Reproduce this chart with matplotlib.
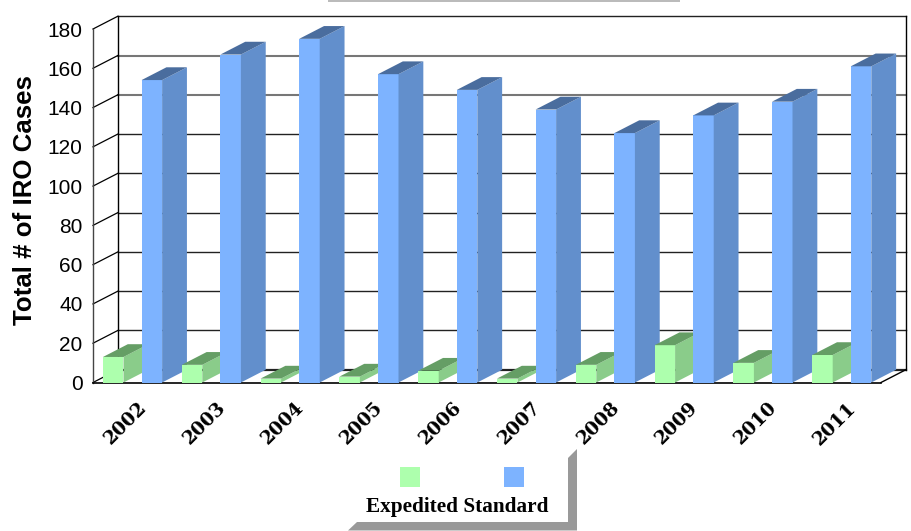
import matplotlib
matplotlib.use('Agg')
import matplotlib.pyplot as plt
from matplotlib.patches import Polygon, Rectangle

# Chart data
years = ['2002', '2003', '2004', '2005', '2006', '2007', '2008', '2009', '2010', '2011']
expedited = [13, 9, 2, 3, 6, 2, 9, 19, 10, 14]
standard = [154, 167, 175, 157, 149, 139, 127, 136, 143, 161]
y_ticks = [0, 20, 40, 60, 80, 100, 120, 140, 160, 180]

# 3D look, in data units
depth_x = 0.315
depth_y = 6.5
bar_w = 0.26
green_off = 0.127
blue_off = 0.617

green = ('#ADFFAD', '#8ACC8A', '#659E65')
blue = ('#7DB3FF', '#628FCC', '#4A6D9E')

W, H = 911, 531
fig = plt.figure(figsize=(W / 100, H / 100), dpi=100)
ax = fig.add_axes([93 / W, (H - 382.5) / H, 788 / W, 353.5 / H])
ax.set_xlim(0, 10)
ax.set_ylim(0, 180)
for s in ax.spines.values():
    s.set_visible(False)
ax.patch.set_visible(False)


def draw_bar(x, val, cols):
    ax.bar(x, val, bar_w, align='edge', color=cols[0], zorder=5, clip_on=False)
    side = [(x + bar_w, 0), (x + bar_w + depth_x, depth_y),
            (x + bar_w + depth_x, val + depth_y), (x + bar_w, val)]
    top = [(x, val), (x + depth_x, val + depth_y),
           (x + bar_w + depth_x, val + depth_y), (x + bar_w, val)]
    ax.add_patch(Polygon(side, color=cols[1], lw=0, zorder=5, clip_on=False))
    ax.add_patch(Polygon(top, color=cols[2], lw=0, zorder=5, clip_on=False))


# back wall, side wall and floor
for t in y_ticks:
    # the 140 and 160 lines look lighter and thicker in the original
    col, lw = ('#777777', 1.5) if t in (140, 160) else ('#222222', 1)
    ax.plot([depth_x, 10 + depth_x], [t + depth_y, t + depth_y], color=col,
            lw=1.6 if t == 0 else lw, zorder=1, clip_on=False)
    ax.plot([0, depth_x], [t, t + depth_y], color='black', lw=0.9, zorder=1, clip_on=False)
ax.plot([0, 0], [0, 180], color='#444444', lw=1, zorder=1, clip_on=False)
ax.plot([depth_x, depth_x], [depth_y, 180 + depth_y], color='black', lw=1, zorder=1, clip_on=False)
ax.plot([10 + depth_x, 10 + depth_x], [depth_y, 180 + depth_y], color='black', lw=1, zorder=1, clip_on=False)
ax.plot([0, 10], [0, 0], color='black', lw=1.2, zorder=2, clip_on=False)
ax.plot([10, 10 + depth_x], [0, depth_y], color='black', lw=1, zorder=1, clip_on=False)

for i in range(len(years)):
    draw_bar(i + green_off, expedited[i], green)
    draw_bar(i + blue_off, standard[i], blue)

# axis text
ax.set_xticks([])
ax.set_yticks(y_ticks)
ax.tick_params(axis='y', length=0, pad=7.5, labelsize=15)
for lab in ax.get_yticklabels():
    lab.set_fontfamily('Liberation Sans')

for i, year in enumerate(years):
    ax.annotate(year, (i + 0.5, 0), xytext=(-7, -41), textcoords='offset pixels',
                rotation=45, ha='center', va='center', fontsize=13.5,
                fontweight='bold', family='DejaVu Serif', annotation_clip=False)

fig.text(25.5 / W, 1 - 200.5 / H, 'Total # of IRO Cases', rotation=90, ha='center', va='center',
         fontsize=18.6, fontweight='bold', family='Liberation Sans')

# overlay in pixel coordinates: legend box shadow, swatches, title box remnant
ov = fig.add_axes([0, 0, 1, 1])
ov.set_xlim(0, W)
ov.set_ylim(H, 0)
ov.axis('off')
ov.patch.set_visible(False)
ov.add_patch(Polygon([(568, 458), (577, 449), (577, 530.5), (348, 530.5), (357, 522), (568, 522)],
                     color='#999999', lw=0))
ov.add_patch(Rectangle((328, 0), 352, 2, color='#BBBBBB', lw=0))
ov.add_patch(Rectangle((400, 467), 20, 20, color=green[0], lw=0))
ov.add_patch(Rectangle((504, 467), 20, 20, color=blue[0], lw=0))
ov.text(457.5, 507, 'Expedited Standard', ha='center', va='center', fontsize=15.3,
        fontweight='bold', family='Liberation Serif')

fig.savefig('out.png', dpi=100)
